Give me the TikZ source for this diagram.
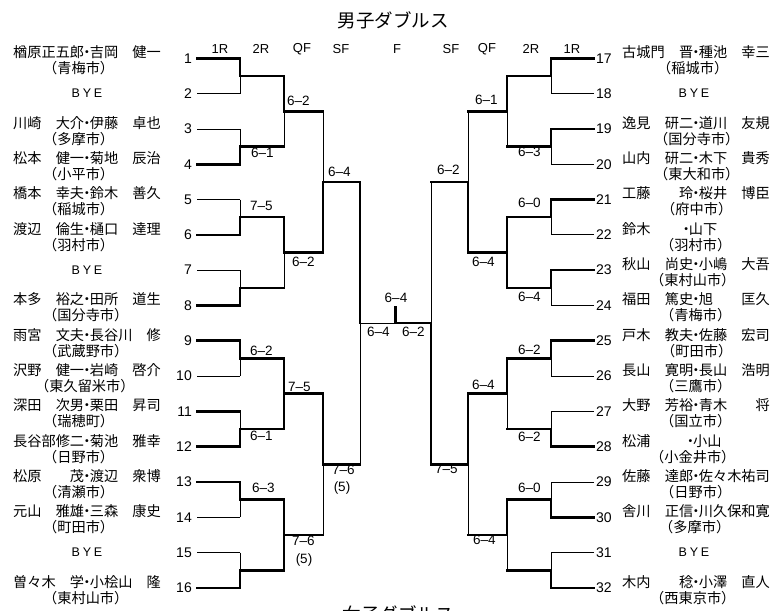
\documentclass[tikz,border=0pt]{standalone}
\usepackage{fontspec}
\setmainfont{Liberation Sans}
\newfontfamily\jp{Noto Sans CJK JP}
\usetikzlibrary{calc}
\newcommand\mdot{\kern-0.3em・\kern-0.3em}
\newcommand\byetext{B\kern2.8pt Y\kern2.8pt E}
\newcommand\bkt[7]{%
  \coordinate (#3) at ($(#1)!0.5!(#2)$);
  \coordinate (#3o) at (#3 -| #6);
  \draw[#4] (#1) -- (#3);
  \draw[#5] (#3) -- (#2);
  \draw[#7] (#3) -- (#3o);
}
\newcommand\lname[4]{%
  \node[nm,anchor=west] (ln#1) at ($(Ls#1)+(-184,-6)$) {#2};
  \node[nm,anchor=west] (lc#1) at ($(Ls#1)+(#3-197,10)$) {#4};
}
\newcommand\rname[4]{%
  \node[nm,anchor=west] (rn#1) at ($(Rs#1)+(28,-6)$) {#2};
  \node[nm,anchor=west] (rc#1) at ($(Rs#1)+(#3-594,10)$) {#4};
}
\tikzset{
  thk/.style={line width=2.6pt,line cap=rect},
  thn/.style={line width=0.8pt},
  num/.style={font=\fontsize{14}{14}\selectfont,inner sep=0pt},
  sc/.style={font=\fontsize{13.5}{13.5}\selectfont,inner sep=0pt,anchor=west},
  rd/.style={font=\fontsize{13}{13}\selectfont,inner sep=0pt},
  nm/.style={font=\jp\fontsize{14.2}{14.2}\selectfont,inner sep=0pt},
  byes/.style={font=\fontsize{12.5}{12.5}\selectfont,inner sep=0pt},
  ttl/.style={font=\jp\fontsize{18.5}{18.5}\selectfont,inner sep=0pt},
}
\begin{document}
\begin{tikzpicture}[x=1pt,y=-1pt]
\fill[white] (0,0) rectangle (780,611);
\useasboundingbox (0,0) rectangle (780,611);

% title
\node[ttl] (title) at (393,20) {男子ダブルス};
\begin{scope}
  \clip (0,0) rectangle (780,611);
  \node[ttl] (title2) at (398,614.5) {女子ダブルス};
\end{scope}

% round headers
\node[rd] (h1) at (220,49) {1R};
\node[rd] (h2) at (261,49) {2R};
\node[rd] (h3) at (302,49) {QF};
\node[rd] (h4) at (341,49) {SF};
\node[rd] (h5) at (397,49) {F};
\node[rd] (h6) at (451,49) {SF};
\node[rd] (h7) at (487,49) {QF};
\node[rd] (h8) at (531,49) {2R};
\node[rd] (h9) at (572,49) {1R};

% column coordinates
\coordinate (LX2) at (284,0);
\coordinate (LX3) at (323,0);
\coordinate (LX4) at (360,0);
\coordinate (CX) at (395.5,0);
\coordinate (RX2) at (507,0);
\coordinate (RX3) at (468,0);
\coordinate (RX4) at (431,0);

% slots
\foreach \i in {1,...,16}{
  \pgfmathsetmacro\yy{58.3+35.31*(\i-1)}
  \pgfmathtruncatemacro\j{\i+16}
  \coordinate (Ls\i) at (197,\yy);
  \coordinate (Le\i) at (240,\yy);
  \coordinate (Rs\j) at (594,\yy);
  \coordinate (Re\j) at (551,\yy);
  \node[num,anchor=east] (n\i) at ($(Ls\i)+(-5,0)$) {\i};
  \node[num,anchor=west] (n\j) at ($(Rs\j)+(2,0)$) {\j};
}
\foreach \i in {1,4,6,8,9,11,12,13,16,17,19,21,23,25,28,30,32}{
  \ifnum\i<17 \draw[thk] (Ls\i) -- (Le\i); \else \draw[thk] (Rs\i) -- (Re\i); \fi
}
\foreach \i in {2,3,5,7,10,14,15,18,20,22,24,26,27,29,31}{
  \ifnum\i<17 \draw[thn] (Ls\i) -- (Le\i); \else \draw[thn] (Rs\i) -- (Re\i); \fi
}

% left bracket
\bkt{Le1}{Le2}{La1}{thk}{thn}{LX2}{thk}
\bkt{Le3}{Le4}{La2}{thn}{thk}{LX2}{thk}
\bkt{Le5}{Le6}{La3}{thn}{thk}{LX2}{thk}
\bkt{Le7}{Le8}{La4}{thn}{thk}{LX2}{thk}
\bkt{Le9}{Le10}{La5}{thk}{thn}{LX2}{thk}
\bkt{Le11}{Le12}{La6}{thn}{thk}{LX2}{thk}
\bkt{Le13}{Le14}{La7}{thk}{thn}{LX2}{thk}
\bkt{Le15}{Le16}{La8}{thn}{thk}{LX2}{thk}
\bkt{La1o}{La2o}{Lb1}{thk}{thn}{LX3}{thk}
\bkt{La3o}{La4o}{Lb2}{thk}{thn}{LX3}{thk}
\bkt{La5o}{La6o}{Lb3}{thk}{thk}{LX3}{thk}
\bkt{La7o}{La8o}{Lb4}{thk}{thk}{LX3}{thk}
\bkt{Lb1o}{Lb2o}{Lc1}{thn}{thk}{LX4}{thk}
\bkt{Lb3o}{Lb4o}{Lc2}{thk}{thn}{LX4}{thk}
\bkt{Lc1o}{Lc2o}{Ld}{thk}{thn}{CX}{thn}

% right bracket
\bkt{Re17}{Re18}{Ra1}{thk}{thn}{RX2}{thk}
\bkt{Re19}{Re20}{Ra2}{thk}{thn}{RX2}{thk}
\bkt{Re21}{Re22}{Ra3}{thk}{thn}{RX2}{thk}
\bkt{Re23}{Re24}{Ra4}{thk}{thn}{RX2}{thk}
\bkt{Re25}{Re26}{Ra5}{thk}{thn}{RX2}{thk}
\bkt{Re27}{Re28}{Ra6}{thn}{thk}{RX2}{thk}
\bkt{Re29}{Re30}{Ra7}{thn}{thk}{RX2}{thk}
\bkt{Re31}{Re32}{Ra8}{thn}{thk}{RX2}{thk}
\bkt{Ra1o}{Ra2o}{Rb1}{thk}{thn}{RX3}{thk}
\bkt{Ra3o}{Ra4o}{Rb2}{thk}{thk}{RX3}{thk}
\bkt{Ra5o}{Ra6o}{Rb3}{thk}{thn}{RX3}{thk}
\bkt{Ra7o}{Ra8o}{Rb4}{thk}{thn}{RX3}{thk}
\bkt{Rb1o}{Rb2o}{Rc1}{thn}{thk}{RX4}{thk}
\bkt{Rb3o}{Rb4o}{Rc2}{thk}{thn}{RX4}{thk}
\bkt{Rc1o}{Rc2o}{Rd}{thn}{thk}{CX}{thk}
\coordinate (Ft) at ($(Rdo)+(0,-16)$);
\draw[thk] (Rdo) -- (Ft);

% scores left
\node[sc] (s1) at (251,153) {6\textendash1};
\node[sc] (s2) at (287,101) {6\textendash2};
\node[sc] (s3) at (328,172) {6\textendash4};
\node[sc] (s4) at (250,206) {7\textendash5};
\node[sc] (s5) at (292,262) {6\textendash2};
\node[sc] (s6) at (250,351) {6\textendash2};
\node[sc] (s7) at (288,387) {7\textendash5};
\node[sc] (s8) at (250,436) {6\textendash1};
\node[sc] (s9) at (252,488) {6\textendash3};
\node[sc] (s10) at (292,541) {7\textendash6};
\node[sc,anchor=center] (s10b) at (304,560) {(5)};
\node[sc] (s11) at (332,470) {7\textendash6};
\node[sc,anchor=center] (s11b) at (342,488) {(5)};
% final
\node[sc,anchor=center] (f1) at (396,297.5) {6\textendash4};
\node[sc] (f2) at (367,332) {6\textendash4};
\node[sc] (f3) at (402,332) {6\textendash2};
% scores right
\node[sc] (r1) at (475,100) {6\textendash1};
\node[sc] (r2) at (518,152) {6\textendash3};
\node[sc] (r3) at (437,170) {6\textendash2};
\node[sc] (r4) at (518,203) {6\textendash0};
\node[sc] (r5) at (472,262) {6\textendash4};
\node[sc] (r6) at (518,297) {6\textendash4};
\node[sc] (r7) at (518,350) {6\textendash2};
\node[sc] (r8) at (472,385) {6\textendash4};
\node[sc] (r9) at (518,437) {6\textendash2};
\node[sc] (r10) at (435,469) {7\textendash5};
\node[sc] (r11) at (518,488) {6\textendash0};
\node[sc] (r12) at (473,540) {6\textendash4};

% names left
\lname{1}{楢原正五郎\mdot 吉岡　健一}{43}{（青梅市）}
\lname{3}{川崎　大介\mdot 伊藤　卓也}{43}{（多摩市）}
\lname{4}{松本　健一\mdot 菊地　辰治}{43}{（小平市）}
\lname{5}{橋本　幸夫\mdot 鈴木　善久}{43}{（稲城市）}
\lname{6}{渡辺　倫生\mdot 樋口　達理}{43}{（羽村市）}
\lname{8}{本多　裕之\mdot 田所　道生}{43}{（国分寺市）}
\lname{9}{雨宮　文夫\mdot 長谷川　修}{43}{（武蔵野市）}
\lname{10}{沢野　健一\mdot 岩崎　啓介}{35}{（東久留米市）}
\lname{11}{深田　次男\mdot 栗田　昇司}{43}{（瑞穂町）}
\lname{12}{長谷部修二\mdot 菊池　雅幸}{43}{（日野市）}
\lname{13}{松原　　茂\mdot 渡辺　衆博}{43}{（清瀬市）}
\lname{14}{元山　雅雄\mdot 三森　康史}{43}{（町田市）}
\lname{16}{曽々木　学\mdot 小桧山　隆}{43}{（東村山市）}
\node[byes] (b2) at ($(Ls2)+(-110,0)$) {\byetext};
\node[byes] (b7) at ($(Ls7)+(-110,0)$) {\byetext};
\node[byes] (b15) at ($(Ls15)+(-110,0)$) {\byetext};

% names right
\rname{17}{古城門　晋\mdot 種池　幸三}{657}{（稲城市）}
\rname{19}{逸見　研二\mdot 道川　友規}{654}{（国分寺市）}
\rname{20}{山内　研二\mdot 木下　貴秀}{654}{（東大和市）}
\rname{21}{工藤　　玲\mdot 桜井　博臣}{661}{（府中市）}
\rname{22}{鈴木　　\kern0.3em\mdot 山下}{660}{（羽村市）}
\rname{23}{秋山　尚史\mdot 小嶋　大吾}{650}{（東村山市）}
\rname{24}{福田　篤史\mdot 旭　　匡久}{660}{（青梅市）}
\rname{25}{戸木　教夫\mdot 佐藤　宏司}{661}{（町田市）}
\rname{26}{長山　寛明\mdot 長山　浩明}{660}{（三鷹市）}
\rname{27}{大野　芳裕\mdot 青木　　将}{660}{（国立市）}
\rname{28}{松浦　　\kern0.6em\mdot 小山}{650}{（小金井市）}
\rname{29}{佐藤　達郎\mdot 佐々木祐司}{660}{（日野市）}
\rname{30}{舎川　正信\mdot 川久保和寛}{659}{（多摩市）}
\rname{32}{木内　　稔\mdot 小澤　直人}{650}{（西東京市）}
\node[byes] (b18) at ($(Rs18)+(100,0)$) {\byetext};
\node[byes] (b31) at ($(Rs31)+(100,0)$) {\byetext};
\end{tikzpicture}
\end{document}
